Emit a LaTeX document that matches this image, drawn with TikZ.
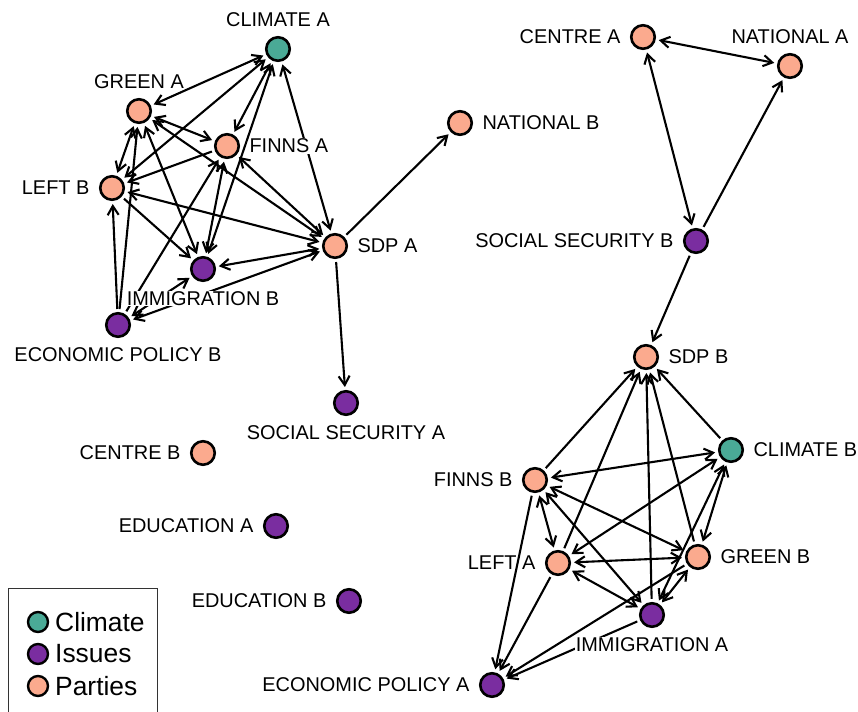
\documentclass[tikz,border=0pt]{standalone}
\usepackage{fontspec}
\setmainfont{Liberation Sans}
\usetikzlibrary{arrows.meta}
\definecolor{climC}{RGB}{74,170,150}
\definecolor{issueC}{RGB}{122,45,160}
\definecolor{partyC}{RGB}{251,170,142}
\pgfdeclarelayer{background}
\pgfsetlayers{background,main}
\tikzset{
  base/.style={circle, draw=black, line width=2.6bp, minimum size=23.5bp, inner sep=0pt},
  climate/.style={base, fill=climC},
  issue/.style={base, fill=issueC},
  party/.style={base, fill=partyC},
  lbl/.style={font=\fontsize{20}{20}\selectfont, inner sep=0.8bp, fill=white, label distance=8.5bp},
  lblnf/.style={font=\fontsize{20}{20}\selectfont, inner sep=0.8bp, label distance=8.5bp},
  tipb/.tip={Straight Barb[length=9bp,width=11bp]},
  edge/.style={-tipb, line width=2.1bp, shorten >=3bp, shorten <=3bp},
  bi/.style={tipb-tipb, line width=2.1bp, shorten >=3bp, shorten <=3bp},
  legtext/.style={font=\fontsize{26.5}{26.5}\selectfont, anchor=west, inner sep=0pt}
}
\begin{document}
\begin{tikzpicture}[x=1bp,y=-1bp]
\useasboundingbox (0,0) rectangle (858,712);
% cluster 1
\node[climate, label={[lbl]above:CLIMATE A}] (CA) at (278,49) {};
\node[party, label={[lbl]above:GREEN A}] (GA) at (139,111) {};
\node[party, label={[lbl]right:FINNS A}] (FA) at (227,146) {};
\node[party, label={[lbl]left:LEFT B}] (LB) at (112,188) {};
\node[party, label={[lbl]right:SDP A}] (SA) at (335,246) {};
\node[issue, label={[lbl]below:IMMIGRATION B}] (IB) at (203,269) {};
\node[issue, label={[lbl]below:ECONOMIC POLICY B}] (EB) at (118,325) {};
\node[party, label={[lbl]right:NATIONAL B}] (NB) at (460,123) {};
\node[issue, label={[lbl]below:SOCIAL SECURITY A}] (SSA) at (346,403) {};
% isolated
\node[party, label={[lbl]left:CENTRE B}] (CEB) at (203,453) {};
\node[issue, label={[lbl]left:EDUCATION A}] (EDA) at (276,526) {};
\node[issue, label={[lbl]left:EDUCATION B}] (EDB) at (349,601) {};
% cluster 2
\node[party, label={[lbl]left:CENTRE A}] (CEA) at (643,37) {};
\node[party, label={[lbl]above:NATIONAL A}] (NA) at (790,66) {};
\node[issue, label={[lbl]left:SOCIAL SECURITY B}] (SSB) at (696,241) {};
% cluster 3
\node[party, label={[lbl]right:SDP B}] (SB) at (646,357) {};
\node[climate, label={[lbl]right:CLIMATE B}] (CB) at (731,450) {};
\node[party, label={[lbl]left:FINNS B}] (FB) at (535,480) {};
\node[party, label={[lblnf]left:LEFT A}] (LA) at (558,563) {};
\node[party, label={[lbl]right:GREEN B}] (GB) at (698,557) {};
\node[issue, label={[lbl]below:IMMIGRATION A}] (IA) at (652,615) {};
\node[issue, label={[lbl]left:ECONOMIC POLICY A}] (EA) at (492,685) {};

\begin{pgfonlayer}{background}
% cluster 1 edges
\draw[bi] (GA) -- (CA);
\draw[bi] (LB) -- (CA);
\draw[bi] (FA) -- (CA);
\draw[bi] (IB) -- (CA);
\draw[bi] (SA) -- (CA);
\draw[bi] (GA) -- (FA);
\draw[bi] (GA) -- (LB);
\draw[bi] (GA) -- (IB);
\draw[bi] (GA) -- (SA);
\draw[edge] (FA) -- (LB);
\draw[bi] (FA) -- (IB);
\draw[bi] (FA) -- (SA);
\draw[bi] (LB) -- (SA);
\draw[edge] (LB) -- (IB);
\draw[bi] (IB) -- (SA);
\draw[edge] (EB) -- (LB);
\draw[edge] (EB) -- (GA);
\draw[edge] (EB) -- (FA);
\draw[bi] (EB) -- (IB);
\draw[bi] (EB) -- (SA);
\draw[edge] (SA) -- (NB);
\draw[edge] (SA) -- (SSA);
% cluster 2 edges
\draw[bi] (CEA) -- (NA);
\draw[bi] (CEA) -- (SSB);
\draw[edge] (SSB) -- (NA);
\draw[edge] (SSB) -- (SB);
% cluster 3 edges
\draw[edge] (FB) -- (SB);
\draw[edge] (LA) -- (SB);
\draw[edge] (IA) -- (SB);
\draw[edge] (GB) -- (SB);
\draw[edge] (CB) -- (SB);
\draw[bi] (FB) -- (CB);
\draw[bi] (LA) -- (CB);
\draw[bi] (FB) -- (LA);
\draw[bi] (FB) -- (IA);
\draw[bi] (FB) -- (GB);
\draw[edge] (FB) -- (EA);
\draw[bi] (CB) -- (GB);
\draw[bi] (CB) -- (IA);
\draw[bi] (LA) -- (GB);
\draw[bi] (LA) -- (IA);
\draw[edge] (LA) -- (EA);
\draw[edge] (IA) -- (EA);
\draw[edge] (GB) -- (EA);
\draw[bi] (IA) -- (GB);
\end{pgfonlayer}

% legend
\draw[line width=0.9bp, draw=black!80] (8,588) rectangle (157,720);
\node[climate, minimum size=20bp, line width=2.4bp] (L1) at (38,622) {};
\node[issue, minimum size=20bp, line width=2.4bp] (L2) at (38,654) {};
\node[party, minimum size=20bp, line width=2.4bp] (L3) at (38,686) {};
\node[legtext] (T1) at (55,622) {Climate};
\node[legtext] (T2) at (55,654) {Issues};
\node[legtext] (T3) at (55,686) {Parties};
\end{tikzpicture}
\end{document}
